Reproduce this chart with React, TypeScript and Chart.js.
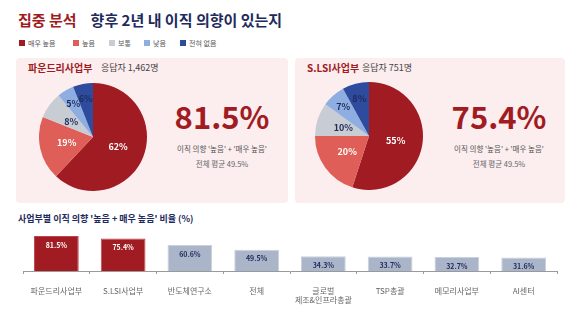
import React, { useEffect, useRef } from "react";
import { Chart, registerables } from "chart.js";

Chart.register(...registerables);

const pieLabels = ["매우 높음", "높음", "보통", "낮음", "전혀 없음"];
const foundryShares = [62, 19, 8, 5, 6];
const lsiShares = [55, 20, 10, 7, 8];
const barCategories: (string | string[])[] = [
  "파운드리사업부",
  "S.LSI사업부",
  "반도체연구소",
  "전체",
  ["글로벌", "제조&인프라총괄"],
  "TSP총괄",
  "메모리사업부",
  "AI센터",
];
const barValues = [81.5, 75.4, 60.6, 49.5, 34.3, 33.7, 32.7, 31.6];

const FONT = '"Noto Sans CJK KR", "Noto Sans", sans-serif';
const RED = "#a01c22";
const NAVY = "#1e2b5c";
const pieColors = ["#a01c22", "#df5e57", "#c8ccd3", "#8eaee2", "#2f4b9d"];
const pieTextColors = ["#ffffff", "#ffffff", "#1e2b5c", "#1e2b5c", "#1e2b5c"];

const pieLabelPlugin = {
  id: "pieLabels",
  afterDatasetsDraw(chart: any) {
    const ctx = chart.ctx;
    const meta = chart.getDatasetMeta(0);
    const data = chart.data.datasets[0].data as number[];
    ctx.save();
    ctx.font = `bold 9px ${FONT}`;
    ctx.textAlign = "center";
    ctx.textBaseline = "middle";
    meta.data.forEach((arc: any, i: number) => {
      const p = arc.getProps(["x", "y", "startAngle", "endAngle", "outerRadius"], true);
      const mid = (p.startAngle + p.endAngle) / 2;
      const f = i >= 3 ? 0.72 : 0.5;
      const x = p.x + Math.cos(mid) * p.outerRadius * f;
      const y = p.y + Math.sin(mid) * p.outerRadius * f;
      ctx.fillStyle = pieTextColors[i];
      ctx.fillText(`${data[i]}%`, x, y);
    });
    ctx.restore();
  },
};

const barLabelPlugin = {
  id: "barLabels",
  afterDatasetsDraw(chart: any) {
    const ctx = chart.ctx;
    const meta = chart.getDatasetMeta(0);
    const data = chart.data.datasets[0].data as number[];
    ctx.save();
    ctx.font = `bold 7px ${FONT}`;
    ctx.textAlign = "center";
    ctx.textBaseline = "middle";
    meta.data.forEach((bar: any, i: number) => {
      ctx.fillStyle = i < 2 ? "#ffffff" : NAVY;
      ctx.fillText(`${data[i].toFixed(1)}%`, bar.x, bar.y + 9);
    });
    ctx.restore();
  },
};

function PieChart({ shares }: { shares: number[] }) {
  const ref = useRef<HTMLCanvasElement>(null);
  useEffect(() => {
    const chart = new Chart(ref.current!, {
      type: "pie",
      data: {
        labels: pieLabels,
        datasets: [{ data: shares, backgroundColor: pieColors, borderWidth: 0 }],
      },
      options: {
        animation: false,
        responsive: false,
        layout: { padding: 0 },
        plugins: { legend: { display: false }, tooltip: { enabled: false } },
      },
      plugins: [pieLabelPlugin],
    });
    return () => chart.destroy();
  }, []);
  return <canvas ref={ref} width={108} height={108} style={{ width: 108, height: 108 }} />;
}

function BarChart() {
  const ref = useRef<HTMLCanvasElement>(null);
  useEffect(() => {
    const chart = new Chart(ref.current!, {
      type: "bar",
      data: {
        labels: barCategories,
        datasets: [
          {
            data: barValues,
            backgroundColor: barValues.map((_, i) => (i < 2 ? RED : "#abb5c9")),
            borderColor: barValues.map((_, i) => (i < 2 ? "#c0464b" : "#c9d0de")),
            borderWidth: 1,
            categoryPercentage: 1,
            barPercentage: 0.67,
          },
        ],
      },
      options: {
        animation: false,
        responsive: false,
        layout: { padding: { left: 23, right: 23, top: 3, bottom: 11 } },
        plugins: { legend: { display: false }, tooltip: { enabled: false } },
        scales: {
          y: { display: false, min: 0, max: 100 },
          x: {
            border: { display: true, color: "#9a9a9a" },
            grid: {
              display: true,
              drawOnChartArea: false,
              drawTicks: true,
              tickLength: 3,
              color: "#9a9a9a",
              offset: true,
            },
            ticks: {
              color: "#666666",
              font: { family: FONT, size: 8 },
              padding: 12,
              maxRotation: 0,
              autoSkip: false,
            },
          },
        },
      },
      plugins: [barLabelPlugin],
    });
    return () => chart.destroy();
  }, []);
  return <canvas ref={ref} width={580} height={100} style={{ width: 580, height: 100 }} />;
}

const abs = (left: number, top: number, extra: React.CSSProperties = {}): React.CSSProperties => ({
  position: "absolute",
  left,
  top,
  whiteSpace: "nowrap",
  fontFamily: FONT,
  ...extra,
});

function Panel({
  left,
  width,
  title,
  count,
  countX,
  big,
  bigCenter,
}: {
  left: number;
  width: number;
  title: string;
  count: string;
  countX: number;
  big: string;
  bigCenter: number;
}) {
  return (
    <>
      <div
        style={{
          position: "absolute",
          left,
          top: 58,
          width,
          height: 145,
          background: "#fcedef",
          borderRadius: 4,
        }}
      />
      <div style={abs(left + 12, 61, { fontSize: 10, fontWeight: 700, color: RED, lineHeight: "14px" })}>
        {title}
      </div>
      <div style={abs(countX, 61, { fontSize: 9, color: "#444", lineHeight: "14px" })}>{count}</div>
      <div
        style={{
          position: "absolute",
          left: bigCenter - 70,
          width: 140,
          top: 97,
          textAlign: "center",
          fontFamily: FONT,
        }}
      >
        <div style={{ fontSize: 31, fontWeight: 700, color: RED, lineHeight: "38px" }}>{big}</div>
        <div style={{ fontSize: 7.5, color: "#555", lineHeight: "10px", marginTop: 9 }}>
          이직 의향 '높음' + '매우 높음'
        </div>
        <div style={{ fontSize: 7.5, color: "#666", lineHeight: "10px", marginTop: 5 }}>전체 평균 49.5%</div>
      </div>
    </>
  );
}

export default function App() {
  const legendX = [19, 73, 109, 144, 180];
  return (
    <div style={{ position: "absolute", left: 0, top: 0, width: 580, height: 324, background: "#fff", overflow: "hidden" }}>
      <div style={abs(18, 10, { fontSize: 15, fontWeight: 700, lineHeight: "20px" })}>
        <span style={{ color: RED }}>집중 분석</span>
        <span style={{ color: NAVY, marginLeft: 14 }}>향후 2년 내 이직 의향이 있는지</span>
      </div>
      {pieLabels.map((l, i) => (
        <div key={l} style={abs(legendX[i], 38, { fontSize: 7, color: "#555", lineHeight: "10px", display: "flex", alignItems: "center" })}>
          <span style={{ display: "inline-block", width: 6, height: 6, background: pieColors[i], marginRight: 3 }} />
          {l}
        </div>
      ))}
      <Panel left={16} width={272} title="파운드리사업부" count="응답자 1,462명" countX={101} big="81.5%" bigCenter={222} />
      <Panel left={295} width={270} title="S.LSI사업부" count="응답자 751명" countX={362} big="75.4%" bigCenter={499} />
      <div style={{ position: "absolute", left: 39, top: 83 }}>
        <PieChart shares={foundryShares} />
      </div>
      <div style={{ position: "absolute", left: 315, top: 82 }}>
        <PieChart shares={lsiShares} />
      </div>
      <div style={abs(18, 212, { fontSize: 9, fontWeight: 700, color: NAVY, lineHeight: "14px" })}>
        사업부별 이직 의향 '높음 + 매우 높음' 비율 (%)
      </div>
      <div style={{ position: "absolute", left: 0, top: 225 }}>
        <BarChart />
      </div>
    </div>
  );
}
